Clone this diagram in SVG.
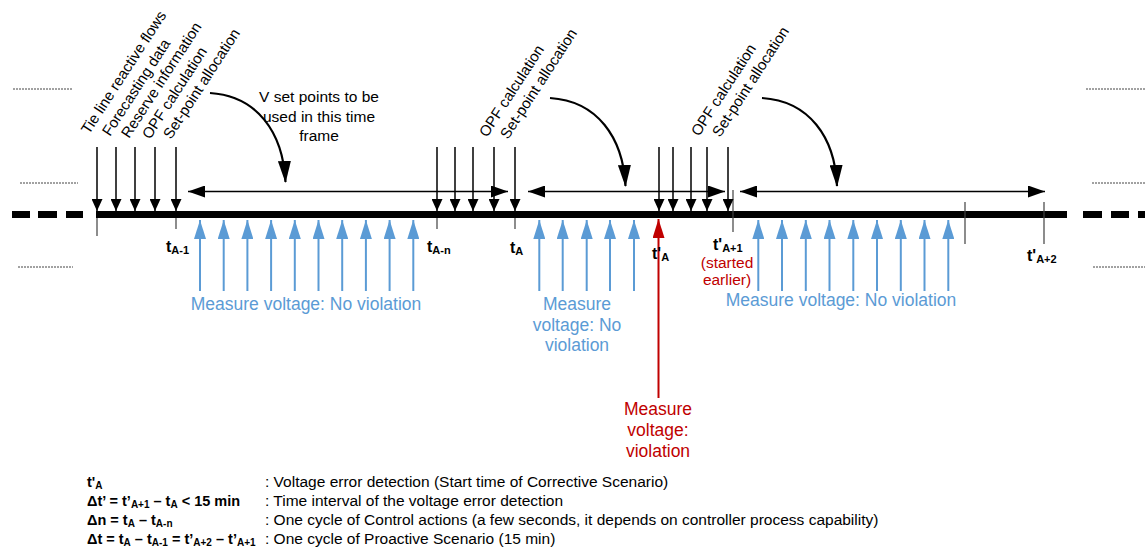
<svg xmlns="http://www.w3.org/2000/svg" width="1145" height="547" viewBox="0 0 1145 547">
<style>
text{font-family:"Liberation Sans",Arial,sans-serif}
.lbl{font-size:15px;fill:#000}
.vs{font-size:15.5px;fill:#000;text-anchor:middle}
.msr{font-size:17.5px;fill:#5B9BD5;text-anchor:middle}
.red{fill:#C00000}
.tl{font-size:16px;font-weight:bold;fill:#000}
.sb{font-size:11px}
.lg{font-size:15.5px;fill:#000}
.lgb{font-weight:bold;font-size:14.5px}
.dn{stroke:#000;stroke-width:1.5;marker-end:url(#ah)}
.up{stroke:#5B9BD5;stroke-width:2;marker-end:url(#bh)}
.upr{stroke:#C00000;stroke-width:2;marker-end:url(#rh)}
.tick{stroke:#404040;stroke-width:1.2}
.dot{stroke:#444;stroke-width:1;stroke-dasharray:2 1}
.harr{stroke:#000;stroke-width:1.5;marker-start:url(#hh);marker-end:url(#hh)}
.curve{fill:none;stroke:#000;stroke-width:2.2;marker-end:url(#ch)}
</style>
<defs>
<marker id="ah" markerUnits="userSpaceOnUse" markerWidth="12" markerHeight="11" viewBox="0 0 12 11" refX="12" refY="5.5" orient="auto"><path d="M0,0L12,5.5L0,11z" fill="#000"/></marker>
<marker id="hh" markerUnits="userSpaceOnUse" markerWidth="17" markerHeight="12" viewBox="0 0 17 12" refX="17" refY="6" orient="auto-start-reverse"><path d="M0,0L17,6L0,12z" fill="#000"/></marker>
<marker id="bh" markerUnits="userSpaceOnUse" markerWidth="19" markerHeight="12" viewBox="0 0 19 12" refX="19" refY="6" orient="auto"><path d="M0,0L19,6L0,12z" fill="#5B9BD5"/></marker>
<marker id="rh" markerUnits="userSpaceOnUse" markerWidth="19" markerHeight="12" viewBox="0 0 19 12" refX="19" refY="6" orient="auto"><path d="M0,0L19,6L0,12z" fill="#C00000"/></marker>
<marker id="ch" markerUnits="userSpaceOnUse" markerWidth="22" markerHeight="13" viewBox="0 0 22 13" refX="21" refY="6.5" orient="auto"><path d="M0,0L22,6.5L0,13z" fill="#000"/></marker>
</defs>

<g id="guides">
<line class="dot" x1="13" y1="89" x2="73" y2="89"/>
<line class="dot" x1="20" y1="183" x2="78" y2="183"/>
<line class="dot" x1="18" y1="267" x2="73" y2="267"/>
<line class="dot" x1="1086" y1="89" x2="1145" y2="89"/>
<line class="dot" x1="1092" y1="183" x2="1145" y2="183"/>
<line class="dot" x1="1093" y1="267" x2="1145" y2="267"/>
</g>

<g id="timeline">
<rect x="12" y="211" width="18" height="7" fill="#000"/>
<rect x="38" y="211" width="19" height="7" fill="#000"/>
<rect x="66" y="211" width="17" height="7" fill="#000"/>
<rect x="96" y="211" width="971" height="7" fill="#000"/>
<rect x="1083" y="211" width="19" height="7" fill="#000"/>
<rect x="1111" y="211" width="18" height="7" fill="#000"/>
<rect x="1138" y="211" width="7" height="7" fill="#000"/>
<line class="tick" x1="97" y1="218" x2="97" y2="236"/>
<line class="tick" x1="176" y1="218" x2="176" y2="229"/>
<line class="tick" x1="437" y1="218" x2="437" y2="229"/>
<line class="tick" x1="515" y1="218" x2="515" y2="229"/>
<line class="tick" x1="733" y1="190" x2="733" y2="232"/>
<line class="tick" x1="965" y1="202" x2="965" y2="244"/>
<line class="tick" x1="1044" y1="202" x2="1044" y2="244"/>
</g>

<g id="connectors">
<line class="dn" x1="97" y1="147" x2="97" y2="211"/>
<line class="dn" x1="116" y1="147" x2="116" y2="211"/>
<line class="dn" x1="135" y1="147" x2="135" y2="211"/>
<line class="dn" x1="155" y1="147" x2="155" y2="211"/>
<line class="dn" x1="176" y1="147" x2="176" y2="211"/>
<line class="dn" x1="437" y1="147" x2="437" y2="211"/>
<line class="dn" x1="455" y1="147" x2="455" y2="211"/>
<line class="dn" x1="473" y1="147" x2="473" y2="211"/>
<line class="dn" x1="494" y1="147" x2="494" y2="211"/>
<line class="dn" x1="515" y1="147" x2="515" y2="211"/>
<line class="dn" x1="659" y1="147" x2="659" y2="211"/>
<line class="dn" x1="673" y1="147" x2="673" y2="211"/>
<line class="dn" x1="691" y1="147" x2="691" y2="211"/>
<line class="dn" x1="707" y1="147" x2="707" y2="211"/>
<line class="dn" x1="728" y1="147" x2="728" y2="211"/>
<line class="harr" x1="188" y1="191.5" x2="508" y2="191.5"/>
<line class="harr" x1="528" y1="191.5" x2="725" y2="191.5"/>
<line class="harr" x1="740" y1="191.5" x2="1045" y2="191.5"/>
<path class="curve" d="M210,93 C257,96 283,132 285.5,182"/>
<path class="curve" d="M550,98 C597,101 623,137 625.5,186"/>
<path class="curve" d="M762,98 C809,101 835,137 837,186"/>
<line class="up" x1="200" y1="291" x2="200" y2="220"/>
<line class="up" x1="223.7" y1="291" x2="223.7" y2="220"/>
<line class="up" x1="247.4" y1="291" x2="247.4" y2="220"/>
<line class="up" x1="271.1" y1="291" x2="271.1" y2="220"/>
<line class="up" x1="294.8" y1="291" x2="294.8" y2="220"/>
<line class="up" x1="318.5" y1="291" x2="318.5" y2="220"/>
<line class="up" x1="342.2" y1="291" x2="342.2" y2="220"/>
<line class="up" x1="365.9" y1="291" x2="365.9" y2="220"/>
<line class="up" x1="389.6" y1="291" x2="389.6" y2="220"/>
<line class="up" x1="413.3" y1="291" x2="413.3" y2="220"/>
<line class="up" x1="539.3" y1="291" x2="539.3" y2="220"/>
<line class="up" x1="562.7" y1="291" x2="562.7" y2="220"/>
<line class="up" x1="586.7" y1="291" x2="586.7" y2="220"/>
<line class="up" x1="610" y1="291" x2="610" y2="220"/>
<line class="up" x1="634" y1="291" x2="634" y2="220"/>
<line class="upr" x1="658.5" y1="398" x2="658.5" y2="219"/>
<line class="up" x1="758.3" y1="291" x2="758.3" y2="220"/>
<line class="up" x1="782" y1="291" x2="782" y2="220"/>
<line class="up" x1="805.8" y1="291" x2="805.8" y2="220"/>
<line class="up" x1="829.5" y1="291" x2="829.5" y2="220"/>
<line class="up" x1="853.3" y1="291" x2="853.3" y2="220"/>
<line class="up" x1="877" y1="291" x2="877" y2="220"/>
<line class="up" x1="900.8" y1="291" x2="900.8" y2="220"/>
<line class="up" x1="924.5" y1="291" x2="924.5" y2="220"/>
<line class="up" x1="948.3" y1="291" x2="948.3" y2="220"/>
</g>

<g id="inputs-1">
<text class="lbl" transform="translate(89,135) rotate(-57)">Tie line reactive flows</text>
<text class="lbl" transform="translate(110,137) rotate(-57)">Forecasting data</text>
<text class="lbl" transform="translate(129,139) rotate(-57)">Reserve information</text>
<text class="lbl" transform="translate(150,140) rotate(-57)">OPF calculation</text>
<text class="lbl" transform="translate(171,140) rotate(-57)">Set-point allocation</text>
</g>
<g id="inputs-2">
<text class="lbl" transform="translate(487,138) rotate(-57)">OPF calculation</text>
<text class="lbl" transform="translate(508,140) rotate(-57)">Set-point allocation</text>
</g>
<g id="inputs-3">
<text class="lbl" transform="translate(699,137) rotate(-57)">OPF calculation</text>
<text class="lbl" transform="translate(720,138) rotate(-57)">Set-point allocation</text>
</g>
<g id="vset-note">
<text class="vs" x="319" y="102">V set points to be</text>
<text class="vs" x="319" y="122">used in this time</text>
<text class="vs" x="319" y="141">frame</text>
</g>

<g id="time-labels">
<text class="tl" x="166" y="252">t<tspan class="sb" dy="2">A-1</tspan></text>
<text class="tl" x="427" y="252">t<tspan class="sb" dy="2">A-n</tspan></text>
<text class="tl" x="510" y="253">t<tspan class="sb" dy="2">A</tspan></text>
<text class="tl" x="652" y="259">t'<tspan class="sb" dy="2">A</tspan></text>
<text class="tl" x="713" y="250">t'<tspan class="sb" dy="2">A+1</tspan></text>
<text class="tl" x="1027" y="261">t'<tspan class="sb" dy="2">A+2</tspan></text>
</g>
<g id="started-note">
<text class="msr red" style="font-size:15.5px" x="727" y="268">(started</text>
<text class="msr red" style="font-size:15.5px" x="727" y="285">earlier)</text>
</g>

<g id="measure-1">
<text class="msr" x="306" y="310">Measure voltage: No violation</text>
</g>
<g id="measure-2">
<text class="msr" x="577" y="310">Measure</text>
<text class="msr" x="577" y="331">voltage: No</text>
<text class="msr" x="577" y="351">violation</text>
</g>
<g id="measure-3">
<text class="msr" x="841" y="306">Measure voltage: No violation</text>
</g>
<g id="measure-violation">
<text class="msr red" x="658" y="415">Measure</text>
<text class="msr red" x="658" y="436">voltage:</text>
<text class="msr red" x="658" y="457">violation</text>
</g>

<g id="legend">
<text class="lg lgb" x="87" y="487">t'<tspan font-size="10" dy="2">A</tspan></text>
<text class="lg lgb" x="87" y="506">Δt’ = t’<tspan font-size="10" dy="2">A+1</tspan><tspan dy="-2"> – t</tspan><tspan font-size="10" dy="2">A</tspan><tspan dy="-2"> &lt; 15 min</tspan></text>
<text class="lg lgb" x="87" y="525">Δn = t<tspan font-size="10" dy="2">A</tspan><tspan dy="-2"> – t</tspan><tspan font-size="10" dy="2">A-n</tspan></text>
<text class="lg lgb" x="87" y="544">Δt = t<tspan font-size="10" dy="2">A</tspan><tspan dy="-2"> – t</tspan><tspan font-size="10" dy="2">A-1</tspan><tspan dy="-2"> = t’</tspan><tspan font-size="10" dy="2">A+2</tspan><tspan dy="-2"> – t’</tspan><tspan font-size="10" dy="2">A+1</tspan></text>
<text class="lg" x="265" y="487">: Voltage error detection (Start time of Corrective Scenario)</text>
<text class="lg" x="265" y="506">: Time interval of the voltage error detection</text>
<text class="lg" x="265" y="525">: One cycle of Control actions (a few seconds, it depends on controller process capability)</text>
<text class="lg" x="265" y="544">: One cycle of Proactive Scenario (15 min)</text>
</g>
</svg>
